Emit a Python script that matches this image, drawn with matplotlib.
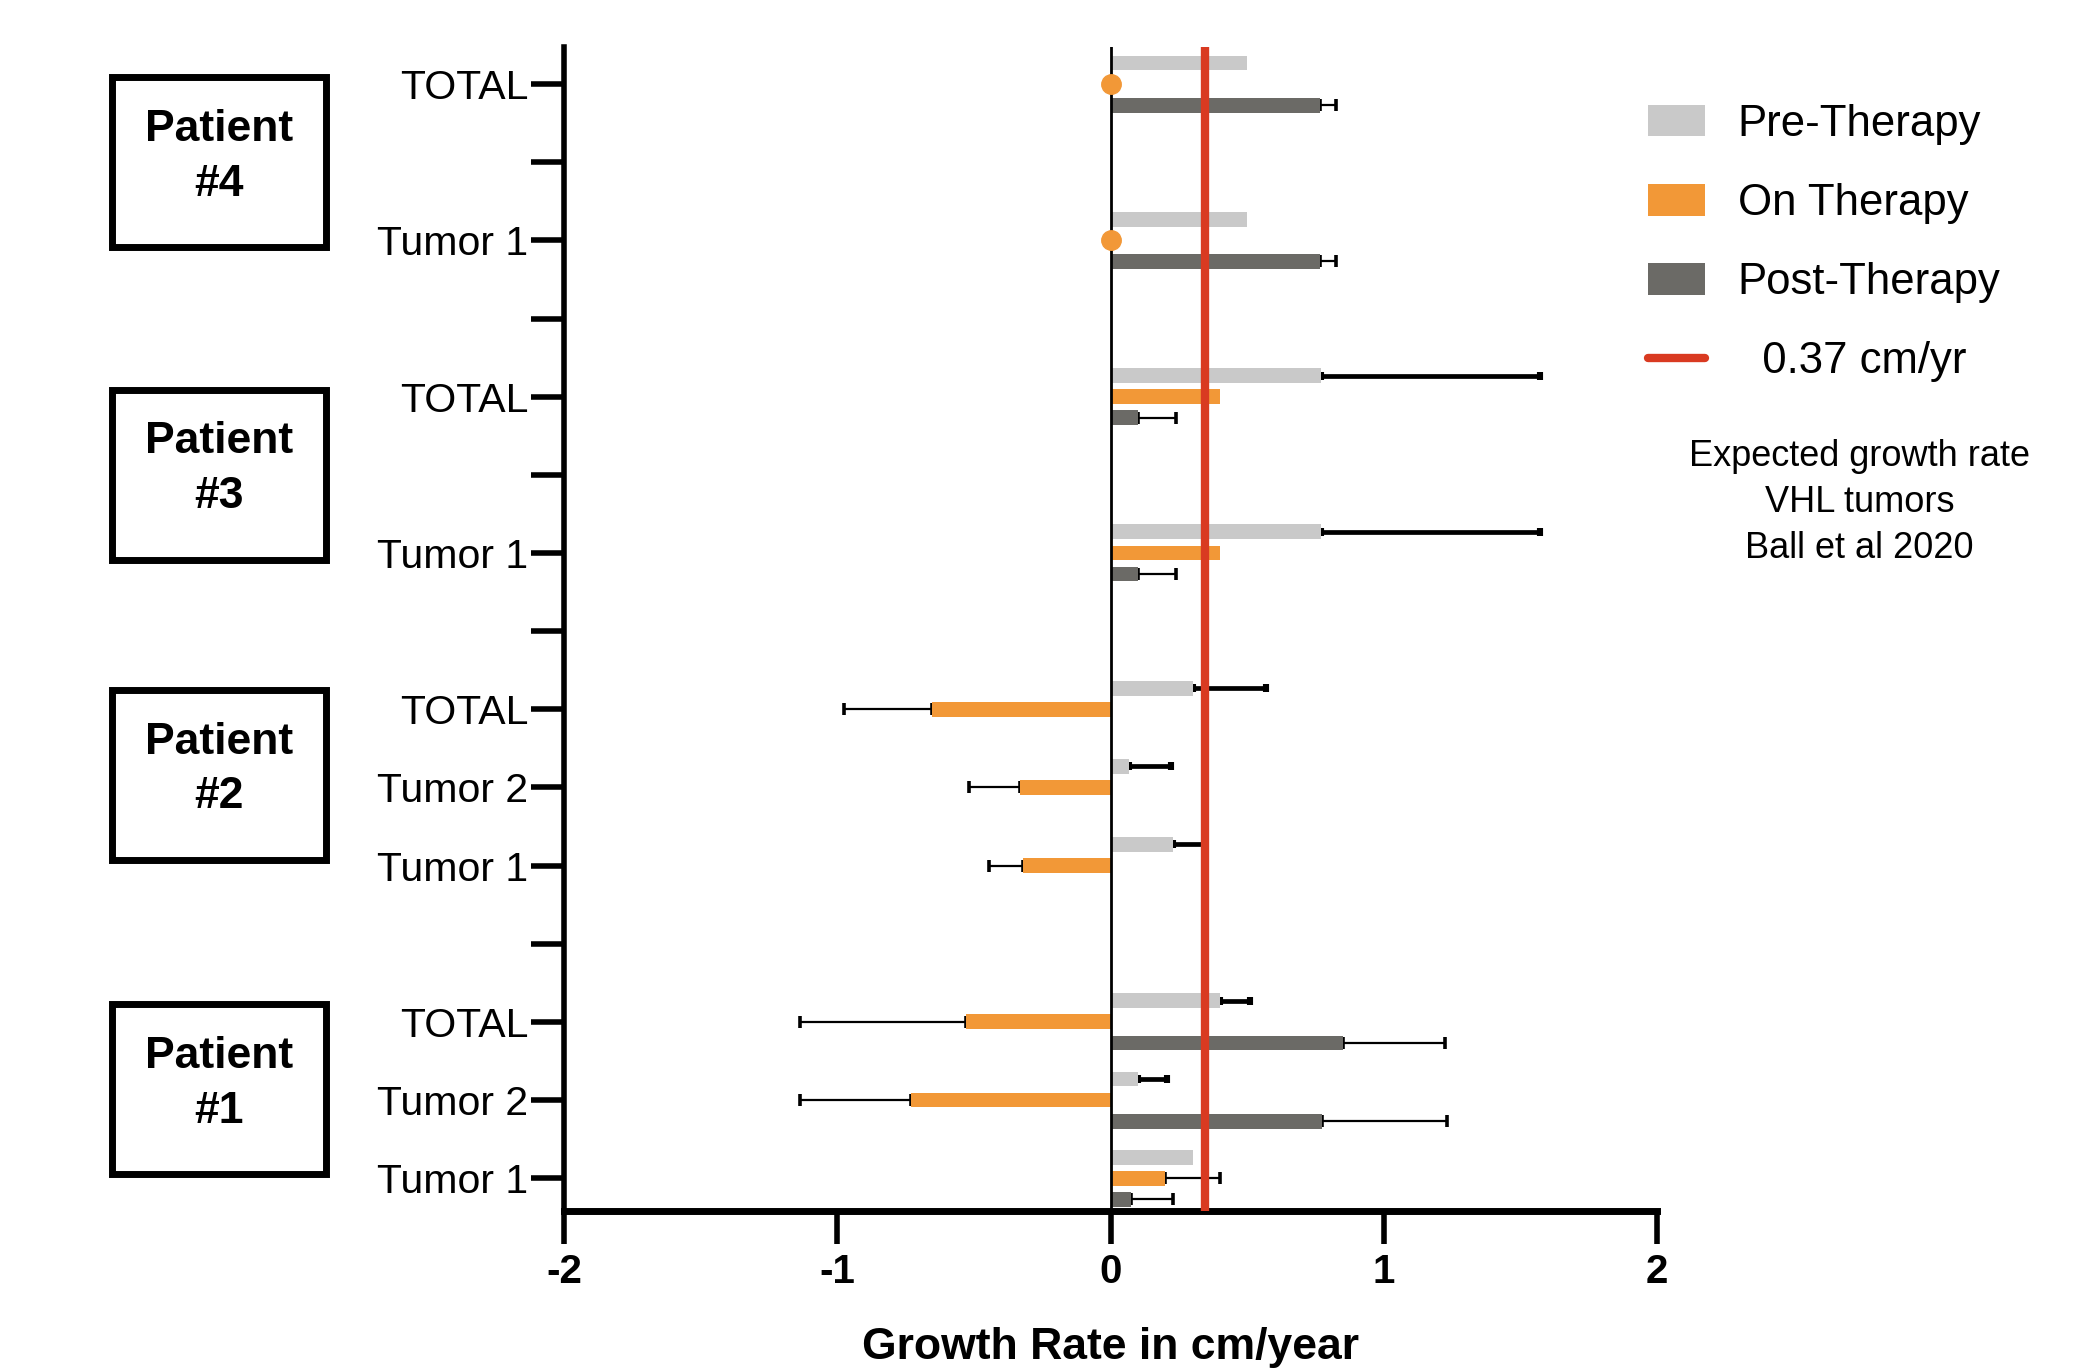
import numpy as np
import matplotlib
matplotlib.use('Agg')
import matplotlib.pyplot as plt
from matplotlib.patches import Patch, Rectangle
from matplotlib.lines import Line2D
import matplotlib.transforms as mtransforms

plt.rcParams['font.family'] = ['Liberation Sans', 'DejaVu Sans']

# rows from bottom to top, '' = empty spacer slot
tick_labels = ['Tumor 1', 'Tumor 2', 'TOTAL', '',
               'Tumor 1', 'Tumor 2', 'TOTAL', '',
               'Tumor 1', '', 'TOTAL', '',
               'Tumor 1', '', 'TOTAL']
nan = np.nan
pre      = [0.30, 0.10, 0.40, nan, 0.23, 0.067, 0.30, nan, 0.77, nan, 0.77, nan, 0.50, nan, 0.50]
pre_err  = [0.0, 0.105, 0.11, nan, 0.115, 0.155, 0.27, nan, 0.80, nan, 0.80, nan, 0.0, nan, 0.0]
on       = [0.20, -0.73, -0.53, nan, -0.32, -0.33, -0.655, nan, 0.40, nan, 0.40, nan, 0.0, nan, 0.0]
on_err   = [0.20, 0.405, 0.605, nan, 0.125, 0.19, 0.32, nan, 0.0, nan, 0.0, nan, 0.0, nan, 0.0]
post     = [0.075, 0.775, 0.85, nan, nan, nan, nan, nan, 0.10, nan, 0.10, nan, 0.765, nan, 0.765]
post_err = [0.155, 0.455, 0.375, nan, nan, nan, nan, nan, 0.14, nan, 0.14, nan, 0.06, nan, 0.06]

patients = ['Patient\n#1', 'Patient\n#2', 'Patient\n#3', 'Patient\n#4']
patient_center = [1.14, 5.16, 9.0, 13.0]
expected_rate = 0.345

pre_c = '#c9c9c9'
on_c = '#f29837'
post_c = '#6b6a66'
red_c = '#d93a21'

fig = plt.figure(figsize=(20.87, 13.69), dpi=100)
ax = fig.add_axes([0.2703, 0.1154, 0.5237, 0.8506])

y = np.arange(len(tick_labels))
h = 0.19
off = 0.27


def one_sided(vals, errs):
    vals = np.array(vals, dtype=float)
    errs = np.nan_to_num(np.array(errs, dtype=float))
    lo = np.where(vals < 0, errs, 0)
    hi = np.where(vals >= 0, errs, 0)
    return [lo, hi]


series = [(pre, pre_err, off, pre_c, 3.4, 3),
          (on, on_err, 0, on_c, 1.6, 4),
          (post, post_err, -off, post_c, 1.6, 4)]
for vals, errs, dy, col, elw, cs in series:
    v = np.array(vals, dtype=float)
    ax.barh(y + dy, v, height=h, color=col, zorder=3)
    e = np.nan_to_num(np.array(errs, dtype=float))
    m = ~np.isnan(v) & (e > 0)
    xerr = one_sided(v[m], e[m])
    ax.errorbar(v[m], (y + dy)[m], xerr=xerr, fmt='none', ecolor='black',
                elinewidth=elw, capsize=cs, capthick=elw + 1, zorder=2)

# on-therapy values of zero drawn as dots
on_arr = np.array(on, dtype=float)
zero = on_arr == 0
ax.plot(on_arr[zero], y[zero], 'o', color=on_c, markersize=14, zorder=6, clip_on=False)

ax.axvline(0, color='black', lw=2, zorder=4)
ax.axvline(expected_rate, color=red_c, lw=6, zorder=5, solid_capstyle='round')

ax.set_xlim(-2, 2)
ax.set_ylim(-0.42, 14.48)
ax.set_xticks([-2, -1, 0, 1, 2])
ax.set_xticklabels(['-2', '-1', '0', '1', '2'], fontsize=29, fontweight='bold')
ax.set_yticks(y)
ax.set_yticklabels(tick_labels, fontsize=29.5)
ax.tick_params(axis='y', length=24, width=4, pad=2)
ax.tick_params(axis='x', length=24, width=4, pad=6)
for s in ['top', 'right']:
    ax.spines[s].set_visible(False)
ax.spines['left'].set_linewidth(4)
ax.spines['bottom'].set_linewidth(5)
ax.set_xlabel('Growth Rate in cm/year', fontsize=32, fontweight='bold', labelpad=26)

# patient boxes
tr = mtransforms.blended_transform_factory(fig.transFigure, ax.transData)
for name, cy in zip(patients, patient_center):
    ax.add_patch(Rectangle((0.0535, cy - 1.09), 0.1025, 2.18, transform=tr,
                           fill=False, lw=5, ec='black', clip_on=False))
    ax.text(0.1048, cy + 0.07, name, transform=tr, ha='center', va='center',
            fontsize=32, fontweight='bold', linespacing=1.43)

handles = [Patch(facecolor=pre_c, label='Pre-Therapy'),
           Patch(facecolor=on_c, label='On Therapy'),
           Patch(facecolor=post_c, label='Post-Therapy'),
           Line2D([], [], color=red_c, lw=6, solid_capstyle='round', label='  0.37 cm/yr')]
fig.legend(handles=handles, loc='upper left', bbox_to_anchor=(0.779, 0.940),
           frameon=False, fontsize=31.5, handlelength=1.3, handleheight=0.73,
           handletextpad=0.76, labelspacing=0.87, borderpad=0)

fig.text(0.891, 0.633, 'Expected growth rate\nVHL tumors\nBall et al 2020',
         ha='center', va='center', fontsize=26, linespacing=1.41)

fig.savefig('out.png', dpi=100)
